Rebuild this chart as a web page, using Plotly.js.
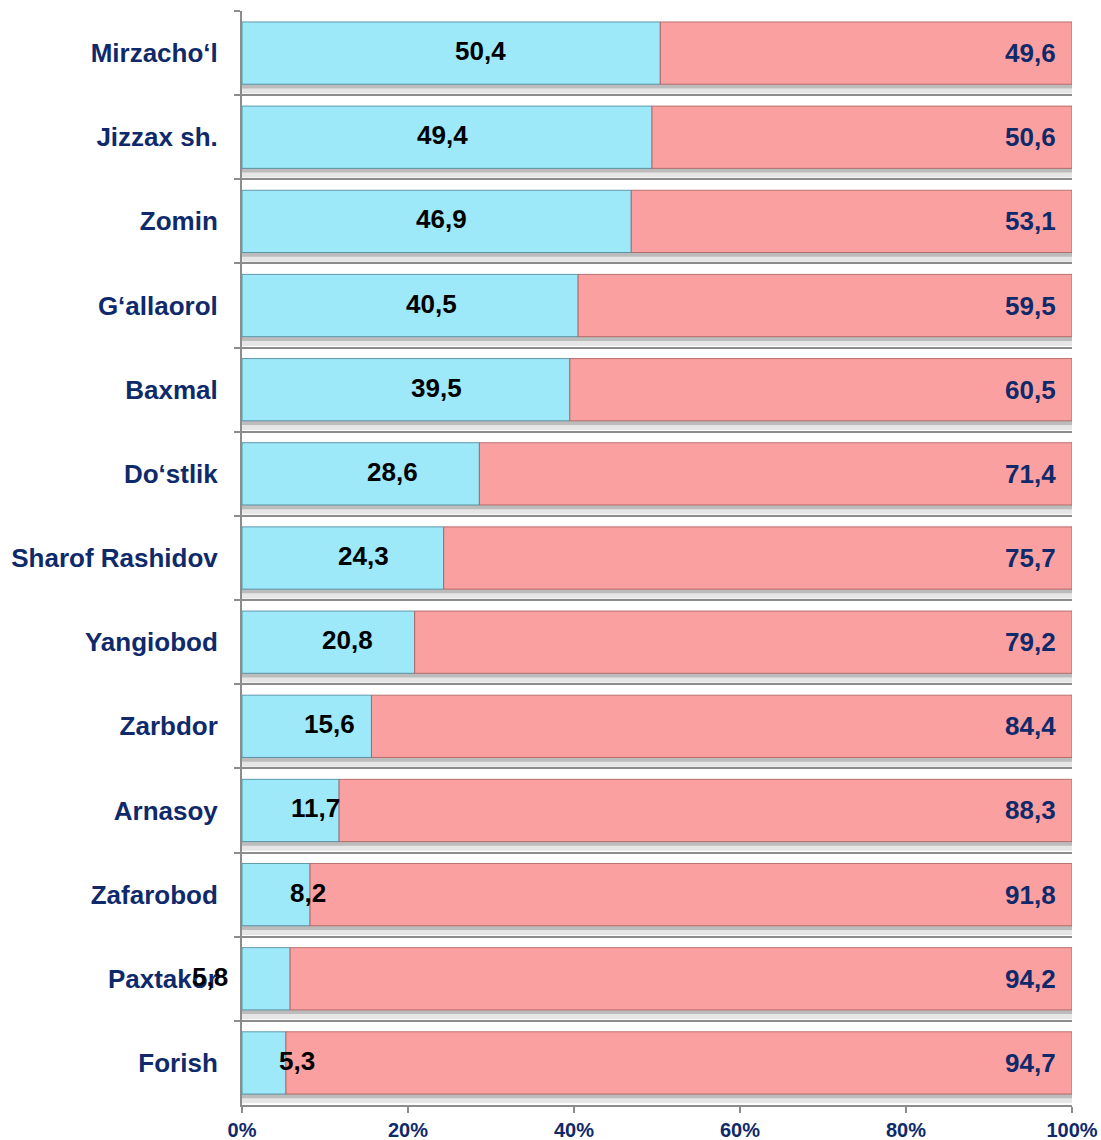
<!DOCTYPE html>
<html>
<head>
<meta charset="utf-8">
<script src="https://cdn.plot.ly/plotly-3.0.1.min.js"></script>
<style>body{margin:0;padding:0;background:#fff}</style>
</head>
<body>
<div id="chart" style="width:1101px;height:1140px"></div>
<script>
const categories = ["Mirzacho‘l","Jizzax sh.","Zomin","G‘allaorol","Baxmal","Do‘stlik","Sharof Rashidov","Yangiobod","Zarbdor","Arnasoy","Zafarobod","Paxtakor","Forish"];
const blueVals = [50.4,49.4,46.9,40.5,39.5,28.6,24.3,20.8,15.6,11.7,8.2,5.8,5.3];
const pinkVals = [49.6,50.6,53.1,59.5,60.5,71.4,75.7,79.2,84.4,88.3,91.8,94.2,94.7];
const xTickVals = [0,20,40,60,80,100];
const blueLabelShift = [29,-5,5,21,31,32,21,19,23,25,32,-56,33];

const FONT = "Liberation Sans, Arial, sans-serif";
const NAVY = "#0f2a6b";
const GRAY = "#8c8c8c";
const totals = blueVals.map((b,i)=>b+pinkVals[i]);
const fmt = v => v.toFixed(1).replace('.', ',');

const barW = 0.74, barOff = -0.37;
const traces = [
  {type:'bar', orientation:'h', y:categories, x:totals, base:0,
   width:0.80, offset:-0.32, marker:{color:'#e6e6e6', line:{width:0}}, hoverinfo:'skip'},
  {type:'bar', orientation:'h', y:categories, x:totals, base:0,
   width:0.74, offset:-0.32, marker:{color:'#bcbcbc', line:{width:0}}, hoverinfo:'skip'},
  {type:'bar', orientation:'h', y:categories, x:blueVals, base:0,
   width:barW, offset:barOff,
   marker:{color:'#9de9f9', line:{color:'rgba(70,130,150,0.8)', width:1}}, hoverinfo:'skip'},
  {type:'bar', orientation:'h', y:categories, x:pinkVals, base:blueVals,
   width:barW, offset:barOff,
   marker:{color:'#fba0a0', line:{color:'rgba(170,90,90,0.8)', width:1}}, hoverinfo:'skip'}
];

const annotations = [];
categories.forEach((c,i)=>{
  annotations.push({x:blueVals[i]/2, y:c, xref:'x', yref:'y', text:fmt(blueVals[i]),
    showarrow:false, xanchor:'center', yanchor:'middle', xshift:blueLabelShift[i], yshift:2,
    font:{family:FONT, size:26, color:'#000', weight:'bold'}});
  annotations.push({x:totals[i], y:c, xref:'x', yref:'y', text:fmt(pinkVals[i]),
    showarrow:false, xanchor:'right', yanchor:'middle', xshift:-14, yshift:0,
    font:{family:FONT, size:26, color:NAVY, weight:'bold'}});
});

const layout = {
  width:1101, height:1140,
  margin:{l:242, r:29, t:11, b:35, pad:0},
  paper_bgcolor:'#fff', plot_bgcolor:'#fff',
  barmode:'overlay', showlegend:false,
  font:{family:FONT},
  xaxis:{range:[0,100], tickvals:xTickVals, ticktext:xTickVals.map(v=>v+'%'),
    ticks:'outside', ticklen:6, tickwidth:2, tickcolor:GRAY,
    showline:true, linecolor:GRAY, linewidth:2, showgrid:false, zeroline:false,
    tickfont:{family:FONT, size:20, color:NAVY, weight:'bold'}, fixedrange:true},
  yaxis:{type:'category', autorange:'reversed', tickson:'boundaries',
    ticks:'outside', ticklen:6, tickwidth:2, tickcolor:GRAY,
    showgrid:true, gridcolor:GRAY, gridwidth:2,
    showline:true, linecolor:GRAY, linewidth:2, zeroline:false,
    ticklabelstandoff:17,
    tickfont:{family:FONT, size:26, color:NAVY, weight:'bold'}, fixedrange:true},
  annotations:annotations
};

Plotly.newPlot('chart', traces, layout, {displayModeBar:false, staticPlot:true});
</script>
</body>
</html>
